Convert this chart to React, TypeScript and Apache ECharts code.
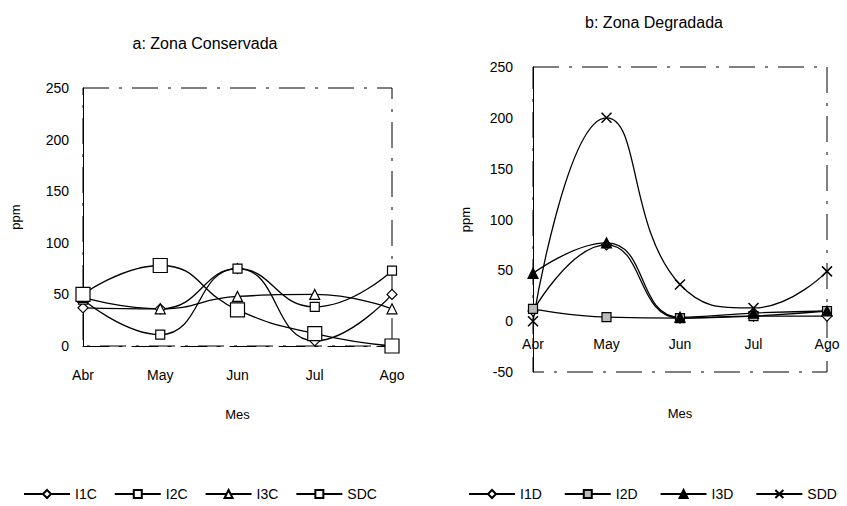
import React, { useEffect, useRef } from 'react';
import * as echarts from 'echarts';

// Months sampled
const months = ['Abr', 'May', 'Jun', 'Jul', 'Ago'];

// a: Zona Conservada (ppm)
const i1c = [37, 36, 75, 5, 50];
const i2c = [45, 11, 75, 38, 73];
const i3c = [47, 36, 48, 50, 36];
const sdc = [50, 78, 35, 12, 0];

// b: Zona Degradada (ppm)
const i1d = [10, 75, 3, 5, 5];
const i2d = [12, 4, 3, 5, 10];
const i3d = [47, 77, 4, 8, 10];
const sdd = [0, 200, 36, 13, 49];

const FONT = '"Liberation Sans", Arial, sans-serif';
const frameDash = [26, 10, 3, 10];
const CROSS = 'path://M0,0L10,10M10,0L0,10';

// Plot boxes of the two panels
const LEFT_GRID = { left: 83, top: 88, width: 309, height: 258 };
const RIGHT_GRID = { left: 533, top: 67, width: 294, height: 305 };
const RIGHT_MIN = -50;
const RIGHT_MAX = 250;
// lift the category axis of panel b up to the value 0
const rightZeroOffset = -(RIGHT_GRID.height * (0 - RIGHT_MIN)) / (RIGHT_MAX - RIGHT_MIN);

const lineSeries = (
  name: string,
  data: number[],
  idx: number,
  symbol: string,
  size: number,
  fill: string,
  bw = 1.2
) => ({
  name,
  type: 'line',
  xAxisIndex: idx,
  yAxisIndex: idx,
  data,
  smooth: true,
  symbol,
  symbolSize: size,
  lineStyle: { color: '#000', width: 1.3 },
  itemStyle: { color: fill, borderColor: '#000', borderWidth: bw },
});

export default function App() {
  const ref = useRef<HTMLDivElement>(null);

  useEffect(() => {
    document.body.style.margin = '0';
    if (!ref.current) return;
    const chart = echarts.init(ref.current, null, { renderer: 'svg' });

    const axisText = { color: '#000', fontSize: 14, fontFamily: FONT };
    const nameText = { color: '#000', fontSize: 13, fontFamily: FONT };

    chart.setOption({
      animation: false,
      backgroundColor: '#fff',
      textStyle: { fontFamily: FONT, color: '#000' },
      graphic: [
        {
          type: 'text',
          x: 205,
          y: 43,
          style: {
            text: 'a: Zona Conservada',
            fontSize: 16,
            fontFamily: FONT,
            fill: '#000',
            textAlign: 'center',
            textVerticalAlign: 'middle',
          },
        },
        {
          type: 'text',
          x: 654,
          y: 22,
          style: {
            text: 'b: Zona Degradada',
            fontSize: 16,
            fontFamily: FONT,
            fill: '#000',
            textAlign: 'center',
            textVerticalAlign: 'middle',
          },
        },
      ],
      grid: [
        {
          ...LEFT_GRID,
          show: true,
          borderColor: '#000',
          borderWidth: 1,
          borderType: frameDash,
        },
        {
          ...RIGHT_GRID,
          show: true,
          borderColor: '#000',
          borderWidth: 1,
          borderType: frameDash,
        },
      ],
      xAxis: [
        {
          gridIndex: 0,
          type: 'category',
          data: months,
          boundaryGap: false,
          axisLine: { lineStyle: { color: '#000', type: frameDash } },
          axisTick: { show: false },
          axisLabel: { ...axisText, margin: 22 },
          name: 'Mes',
          nameLocation: 'middle',
          nameGap: 62,
          nameTextStyle: nameText,
        },
        {
          gridIndex: 1,
          type: 'category',
          data: months,
          boundaryGap: false,
          offset: rightZeroOffset,
          axisLine: { show: false, onZero: false },
          axisTick: { show: false },
          axisLabel: { ...axisText, margin: 16 },
          name: 'Mes',
          nameLocation: 'middle',
          nameGap: 86,
          nameTextStyle: nameText,
        },
      ],
      yAxis: [
        {
          gridIndex: 0,
          type: 'value',
          min: 0,
          max: 250,
          interval: 50,
          axisLine: { show: true, lineStyle: { color: '#000' } },
          axisTick: { show: false },
          splitLine: { show: false },
          axisLabel: { ...axisText, margin: 14 },
          name: 'ppm',
          nameLocation: 'middle',
          nameGap: 61,
          nameTextStyle: nameText,
        },
        {
          gridIndex: 1,
          type: 'value',
          min: RIGHT_MIN,
          max: RIGHT_MAX,
          interval: 50,
          axisLine: { show: true, lineStyle: { color: '#000' } },
          axisTick: { show: false },
          splitLine: { show: false },
          axisLabel: { ...axisText, margin: 20 },
          name: 'ppm',
          nameLocation: 'middle',
          nameGap: 61,
          nameTextStyle: nameText,
        },
      ],
      legend: [
        {
          data: ['I1C', 'I2C', 'I3C', 'SDC'],
          left: 23,
          top: 487,
          padding: 0,
          itemWidth: 46,
          itemHeight: 10,
          itemGap: 17,
          textStyle: { ...axisText, fontSize: 14 },
        },
        {
          data: ['I1D', 'I2D', 'I3D', 'SDD'],
          left: 468,
          top: 487,
          padding: 0,
          itemWidth: 46,
          itemHeight: 10,
          itemGap: 22,
          textStyle: { ...axisText, fontSize: 14 },
        },
      ],
      series: [
        lineSeries('I1C', i1c, 0, 'diamond', 10, '#fff'),
        lineSeries('I2C', i2c, 0, 'rect', 9, '#fff'),
        lineSeries('I3C', i3c, 0, 'triangle', 10, '#fff'),
        lineSeries('SDC', sdc, 0, 'rect', 14, '#fff'),
        lineSeries('I1D', i1d, 1, 'diamond', 10, '#fff'),
        lineSeries('I2D', i2d, 1, 'rect', 9, '#bbb'),
        lineSeries('I3D', i3d, 1, 'triangle', 10, '#000'),
        lineSeries('SDD', sdd, 1, CROSS, 10, 'rgba(0,0,0,0)', 1.5),
      ],
    });

    return () => chart.dispose();
  }, []);

  return <div ref={ref} style={{ width: 847, height: 506, background: '#fff' }} />;
}
